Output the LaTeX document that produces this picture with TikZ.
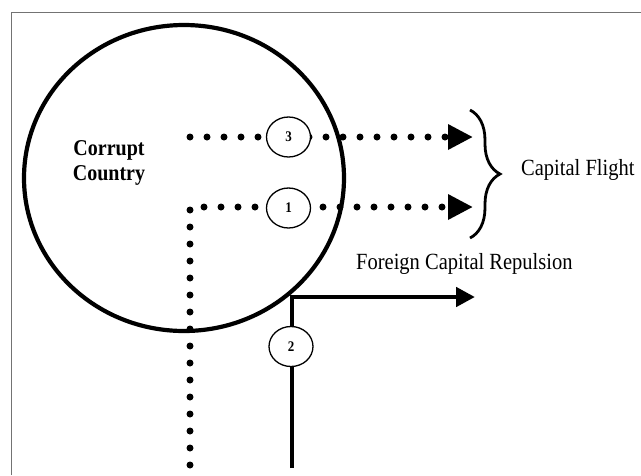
\documentclass[tikz,border=0pt]{standalone}
\usepackage{fontspec}
\setmainfont{Liberation Serif}
\usetikzlibrary{shapes.geometric,arrows.meta,decorations.pathreplacing}
\newcommand{\vstretch}[1]{\scalebox{1}[1.13]{#1}}
\begin{document}
\begin{tikzpicture}[x=1pt,y=-1pt,
  bigcirc/.style={draw,ellipse,line width=4.2pt,minimum width=320pt,minimum height=306pt,inner sep=0pt},
  numcirc/.style={draw,ellipse,line width=1.3pt,fill=white,minimum width=44pt,minimum height=40pt,inner sep=0pt,font=\bfseries\fontsize{13}{13}\selectfont},
  dotline/.style={line width=7pt,line cap=round,dash pattern=on 0pt off 17pt},
  dottip/.style={-{Triangle[length=25pt,width=24pt]}},
  solidline/.style={line width=4.7pt},
  solidtip/.style={-{Triangle[length=19pt,width=19pt]}},
  lbl/.style={font=\fontsize{20.5}{24}\selectfont,inner sep=0pt},
  frame/.style={draw=black!55,line width=1.5pt}
]
\useasboundingbox (0,0) rectangle (641,475);
\fill[white] (0,0) rectangle (641,475);
% frame
\coordinate (fr1) at (11.5,475);
\coordinate (fr2) at (11.5,12.5);
\coordinate (fr3) at (641,12.5);
\draw[frame] (fr1) -- (fr2) -- (fr3);
% main circle
\node[bigcirc] (country) at (184,178) {};
\node[font=\bfseries\fontsize{20}{25}\selectfont,align=center,inner sep=0pt] (ctext) at (109,163) {\vstretch{Corrupt}\\\vstretch{Country}};
% coordinates
\coordinate (s3) at (190,137);
\coordinate (t3) at (473,137);
\coordinate (b1) at (190,465);
\coordinate (k1) at (190,207);
\coordinate (t1) at (473,207);
\coordinate (b2) at (292,468);
\coordinate (k2) at (292,297);
\coordinate (t2) at (475,297);
% dotted arrows
\draw[dotline,dottip] (s3) -- (t3);
\draw[dotline,dottip] (b1) -- (k1) -- (t1);
% solid arrow
\draw[solidline,solidtip] (b2) -- (k2) -- (t2);
% number circles
\node[numcirc] (c3) at (288.5,137) {\vstretch{3}};
\node[numcirc] (c1) at (288.5,208) {\vstretch{1}};
\node[numcirc] (c2) at (291,346.5) {\vstretch{2}};
% brace
\coordinate (brt) at (470,110);
\coordinate (brb) at (470,238);
\draw[decorate,decoration={brace,amplitude=30pt},line width=2.8pt] (brt) -- (brb);
% labels
\node[lbl,anchor=west] (cf) at (521,170) {\vstretch{Capital Flight}};
\node[lbl,anchor=west] (fcr) at (356,264) {\vstretch{Foreign Capital Repulsion}};
\end{tikzpicture}
\end{document}
